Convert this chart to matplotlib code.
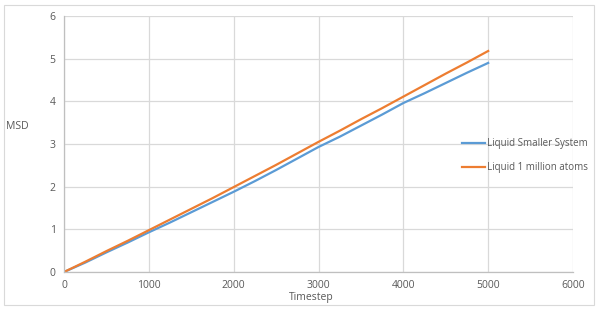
import matplotlib
matplotlib.use('Agg')
import matplotlib.pyplot as plt
from matplotlib.patches import Rectangle

# 資料
timestep = [0, 250, 500, 750, 1000, 1250, 1500, 1750, 2000, 2250, 2500,
            2750, 3000, 3250, 3500, 3750, 4000, 4250, 4500, 4750, 5000]
msd_small = [0, 0.22, 0.46, 0.69, 0.93, 1.16, 1.40, 1.64, 1.88, 2.13, 2.39,
             2.66, 2.93, 3.17, 3.43, 3.69, 3.96, 4.19, 4.43, 4.67, 4.90]
msd_million = [0, 0.24, 0.49, 0.73, 0.98, 1.23, 1.48, 1.73, 1.99, 2.25, 2.51,
               2.78, 3.05, 3.31, 3.58, 3.84, 4.11, 4.38, 4.65, 4.91, 5.18]
series_names = ['Liquid Smaller System', 'Liquid 1 million atoms']

plt.rcParams['font.family'] = ['Open Sans', 'DejaVu Sans']
text_color = '#595959'

fig = plt.figure(figsize=(6, 3.09), dpi=100)
ax = fig.add_axes([64 / 600, 37 / 309, 509 / 600, 256 / 309])

ax.plot(timestep, msd_small, color='#5B9BD5', lw=1.6, label=series_names[0])
ax.plot(timestep, msd_million, color='#ED7D31', lw=1.6, label=series_names[1])

ax.set_xlim(0, 6000)
ax.set_ylim(0, 6)
ax.set_xticks(range(0, 6001, 1000))
ax.set_yticks(range(0, 7))
ax.grid(True, color='#D9D9D9', lw=0.9)
ax.set_axisbelow(True)
for side in ['top', 'right']:
    ax.spines[side].set_visible(False)
for side in ['left', 'bottom']:
    ax.spines[side].set_color('#BFBFBF')
    ax.spines[side].set_linewidth(0.9)
ax.tick_params(length=0, labelsize=7.5, colors=text_color, pad=6)

ax.set_xlabel('Timestep', fontsize=7.5, color=text_color, va='center')
ax.xaxis.set_label_coords(0.485, -0.098)
ax.set_ylabel('MSD', fontsize=7.5, color=text_color, rotation=0,
              ha='center', va='center')
ax.yaxis.set_label_coords(-0.092, 0.57)

ax.legend(loc='center left', bbox_to_anchor=(0.765, 0.455), frameon=False,
          fontsize=7, labelcolor=text_color, handlelength=2.4,
          handletextpad=0.15, labelspacing=1.35)

# 圖表外框
fig.patches.append(Rectangle((4 / 600, 4 / 309), 590 / 600, 300 / 309,
                             transform=fig.transFigure, fill=False,
                             edgecolor='#D9D9D9', lw=0.8))

fig.savefig('out.png', dpi=100)
